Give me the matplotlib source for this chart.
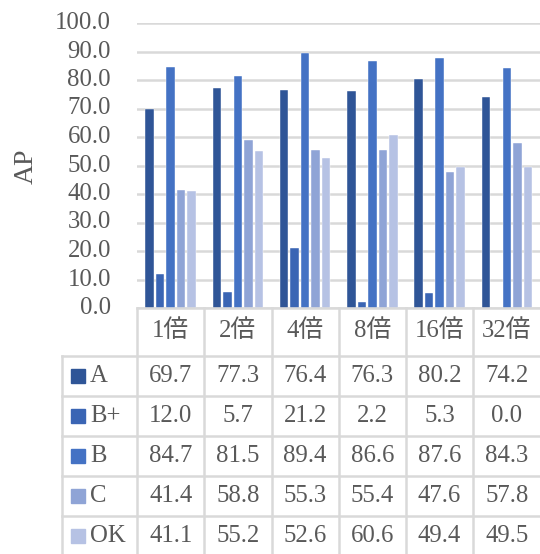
import numpy as np
import matplotlib
matplotlib.use("Agg")
import matplotlib.pyplot as plt
from matplotlib.lines import Line2D
from matplotlib.patches import Rectangle

# data
categories = ["1倍", "2倍", "4倍", "8倍", "16倍", "32倍"]
series_names = ["A", "B+", "B", "C", "OK"]
val_a = [69.7, 77.3, 76.4, 76.3, 80.2, 74.2]
val_bplus = [12.0, 5.7, 21.2, 2.2, 5.3, 0.0]
val_b = [84.7, 81.5, 89.4, 86.6, 87.6, 84.3]
val_c = [41.4, 58.8, 55.3, 55.4, 47.6, 57.8]
val_ok = [41.1, 55.2, 52.6, 60.6, 49.4, 49.5]
series_vals = [val_a, val_bplus, val_b, val_c, val_ok]
colors = ["#2F5597", "#3A65B4", "#4472C4", "#8FA4D6", "#B6C2E4"]

W, H = 540, 554
TXT = "#595959"
GRID = "#D9D9D9"
FONT = ["Liberation Serif", "Noto Sans CJK JP"]
FS = 17.8

fig = plt.figure(figsize=(W / 100, H / 100), dpi=100)


def fx(px):
    return px / W


def fy(py):
    return 1 - py / H


ax_left, ax_right, ax_top, ax_bot = 137, 540.5, 23, 308
ax = fig.add_axes([fx(ax_left), fy(ax_bot), fx(ax_right - ax_left), fy(ax_top) - fy(ax_bot)])

x = np.arange(len(categories))
bw = 0.128
step = 0.156
for i, (vals, col) in enumerate(zip(series_vals, colors)):
    ax.bar(x + (i - 2) * step, vals, width=bw, color=col, edgecolor="white",
           linewidth=0.3, zorder=3)

ax.set_xlim(-0.5, len(categories) - 0.5)
ax.set_ylim(0, 100)
ax.set_yticks(np.arange(0, 101, 10))
ax.yaxis.grid(True, color=GRID, linewidth=1.8, zorder=0)
ax.set_xticks([])
ax.set_yticklabels([])
ax.tick_params(left=False, bottom=False)
for s in ax.spines.values():
    s.set_visible(False)

# y tick labels
for v in np.arange(0, 101, 10):
    yp = ax_bot - (ax_bot - ax_top) * v / 100
    fig.text(fx(111), fy(yp), f"{v:.1f}", ha="right", va="center",
             fontsize=FS, color=TXT, family=FONT)

fig.text(fx(26), fy(166), "AP", rotation=90, ha="center", va="center",
         fontsize=20, color=TXT, family=FONT)

# data table
col_w = (ax_right - ax_left) / len(categories)
col_edges = [ax_left + k * col_w for k in range(len(categories) + 1)]
row_edges = [308, 356, 396, 436, 476, 516, 556]
tab_left = 62


def hline(y, x0, x1):
    fig.add_artist(Line2D([fx(x0), fx(x1)], [fy(y), fy(y)], color=GRID, linewidth=1.8))


def vline(xp, y0, y1):
    fig.add_artist(Line2D([fx(xp), fx(xp)], [fy(y0), fy(y1)], color=GRID, linewidth=1.8))


hline(row_edges[0], ax_left, W)
for y in row_edges[1:-1]:
    hline(y, tab_left, W)
for xp in col_edges[:-1]:
    vline(xp, row_edges[0], H)
vline(tab_left, row_edges[1], H)

for j, cat in enumerate(categories):
    cx = (col_edges[j] + col_edges[j + 1]) / 2
    fig.text(fx(cx), fy(331), cat, ha="center", va="center", fontsize=FS,
             color=TXT, family=FONT)

for i, (name, vals, col) in enumerate(zip(series_names, series_vals, colors)):
    cy = (row_edges[i + 1] + row_edges[i + 2]) / 2
    fig.add_artist(Rectangle((fx(71), fy(cy + 7)), fx(14), fy(cy - 7) - fy(cy + 7),
                             color=col, transform=fig.transFigure))
    fig.text(fx(90), fy(cy), name, ha="left", va="center", fontsize=FS,
             color=TXT, family=FONT)
    for j, v in enumerate(vals):
        cx = (col_edges[j] + col_edges[j + 1]) / 2
        fig.text(fx(cx), fy(cy), f"{v:.1f}", ha="center", va="center",
                 fontsize=FS, color=TXT, family=FONT)

fig.savefig("out.png", dpi=100)
